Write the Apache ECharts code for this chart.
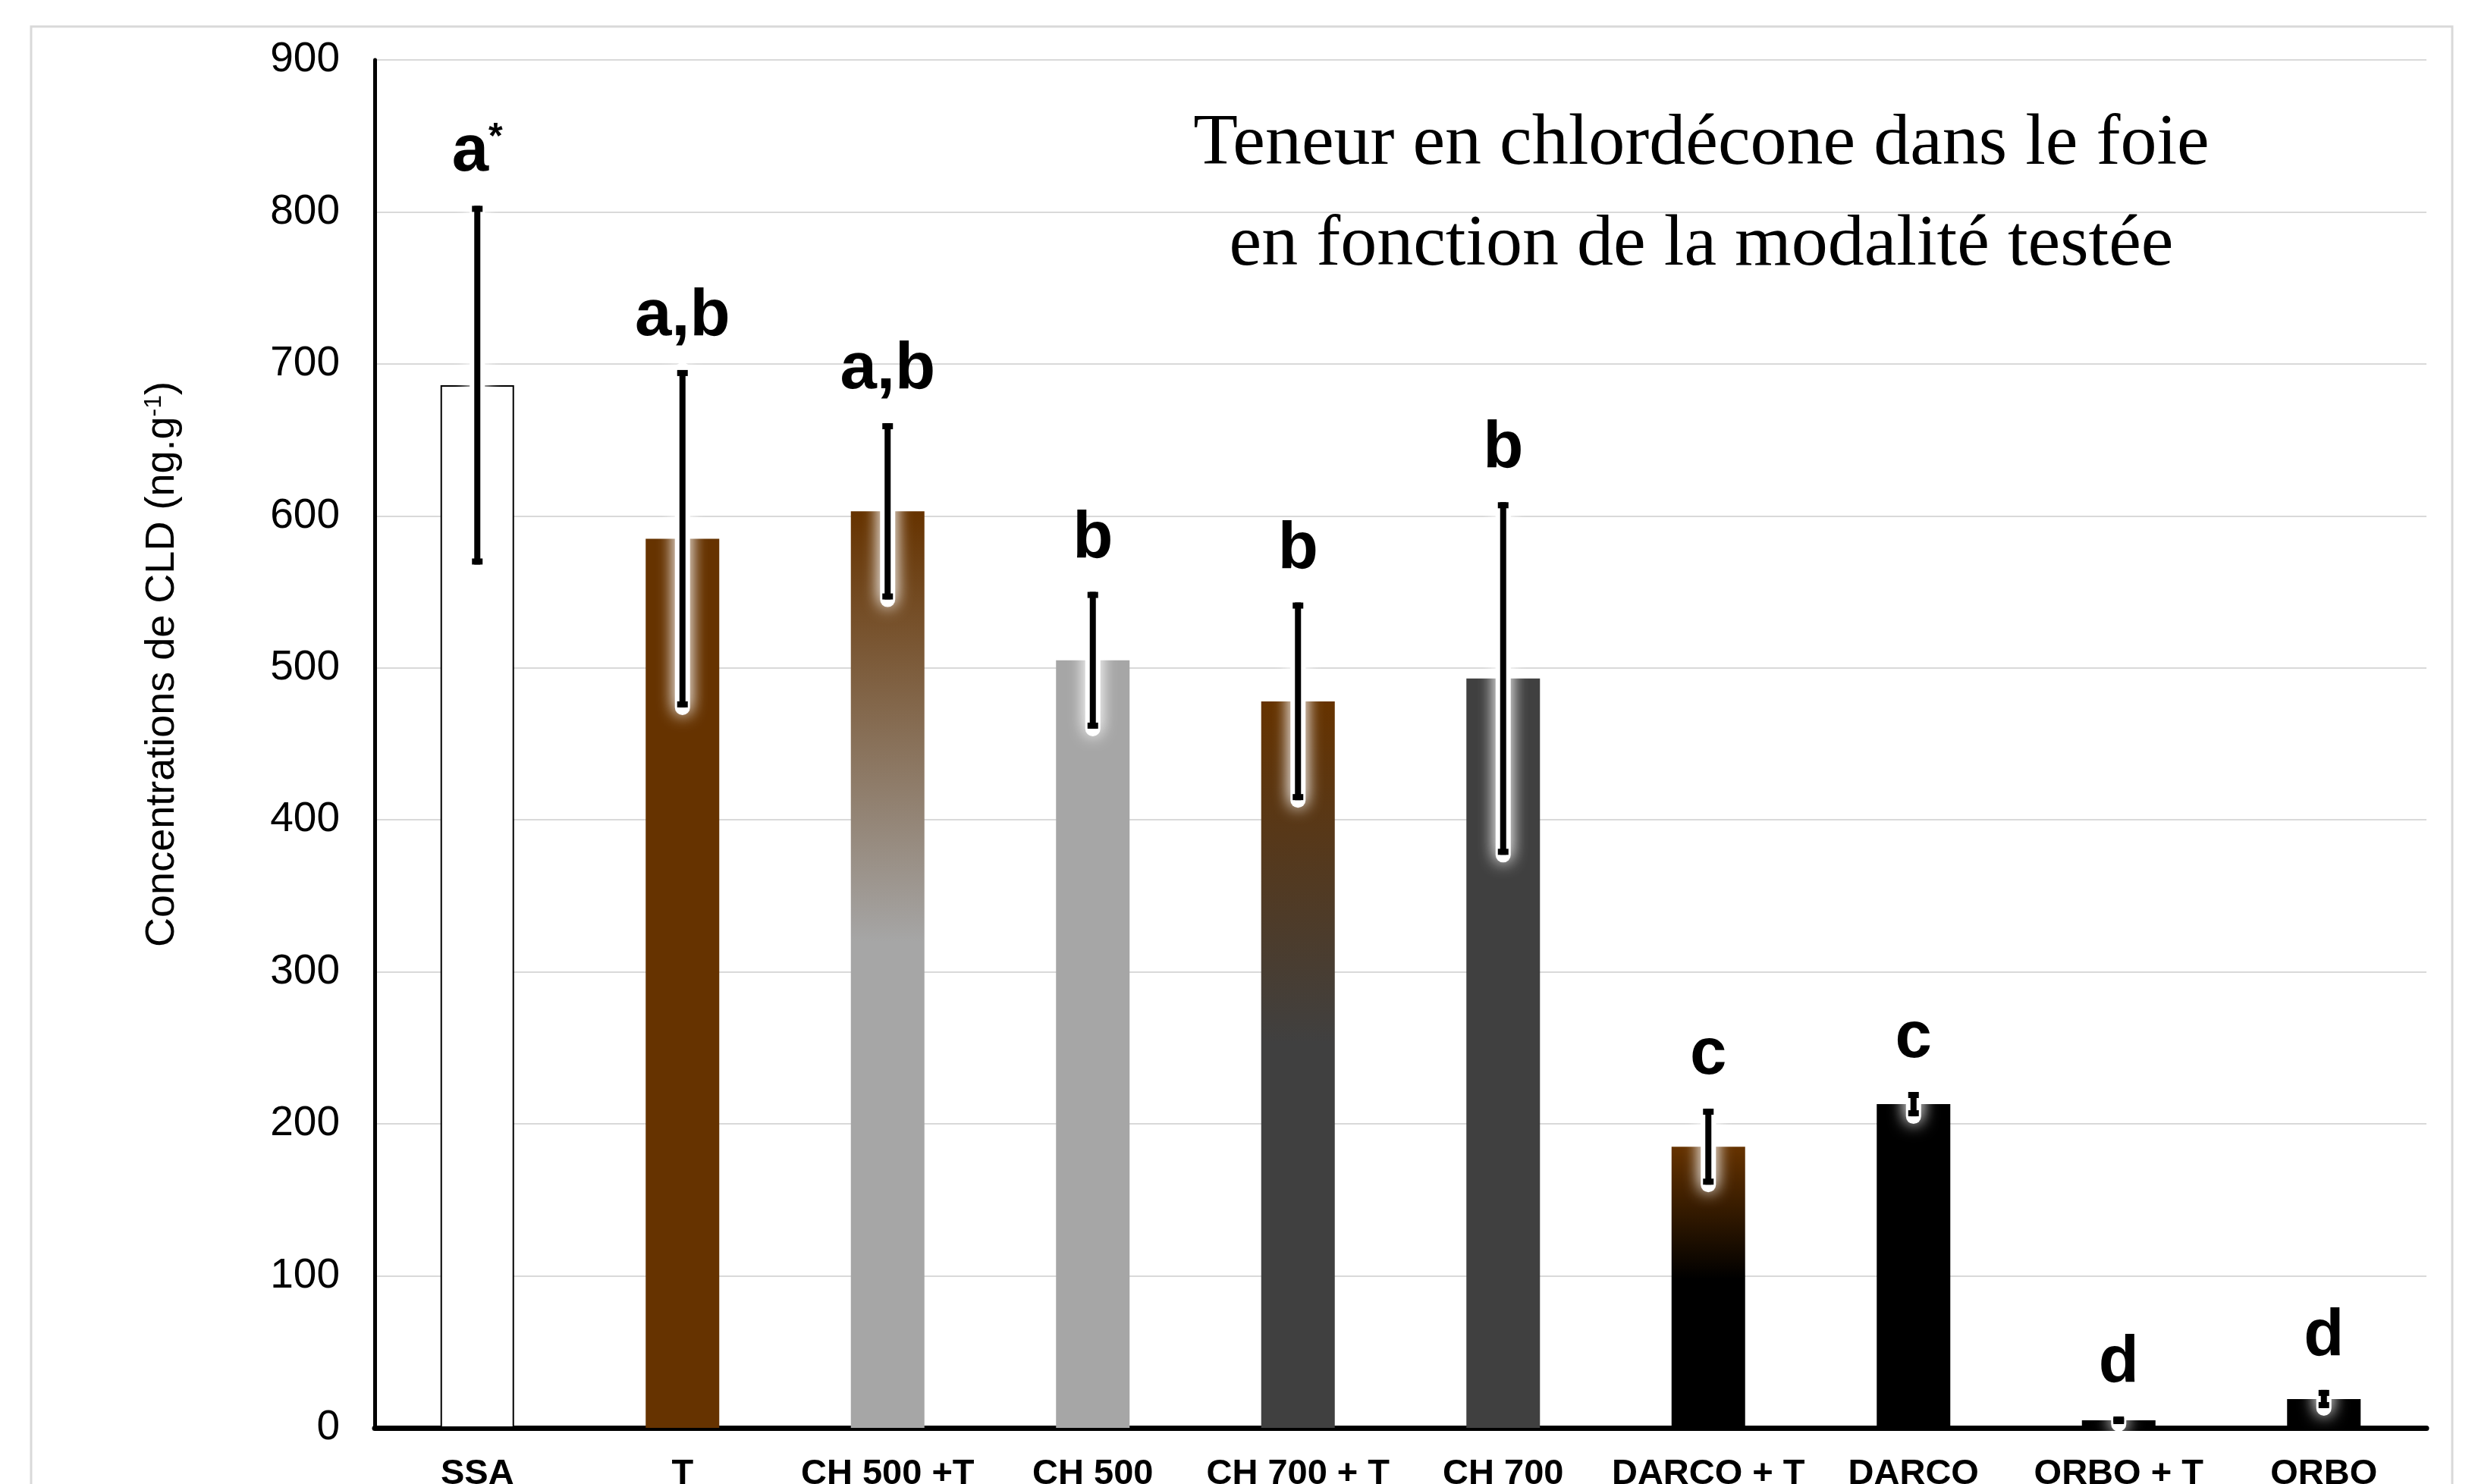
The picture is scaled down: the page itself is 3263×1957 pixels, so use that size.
<!DOCTYPE html>
<html>
<head>
<meta charset="utf-8">
<script src="https://cdn.jsdelivr.net/npm/echarts@6/dist/echarts.min.js"></script>
<style>
  html, body { margin: 0; padding: 0; background: #fff; }
  #chart { width: 3263px; height: 1957px; }
</style>
</head>
<body>
<div id="chart"></div>
<script>
// modalités testées
var categories = ['SSA', 'T', 'CH 500 +T', 'CH 500', 'CH 700 + T', 'CH 700', 'DARCO + T', 'DARCO', 'ORBO + T', 'ORBO'];
// concentrations moyennes de CLD (ng.g-1)
var means = [686, 585, 603, 505, 478, 493, 185, 213, 5, 19];
// écart-types (barres d'erreur)
var errors = [118, 111, 58, 45, 65, 116, 25, 8, 2.5, 6];
// groupes statistiques
var letters = ['a*', 'a,b', 'a,b', 'b', 'b', 'b', 'c', 'c', 'd', 'd'];

var SANS = '"Liberation Sans", Arial, sans-serif';
var SERIF = '"Liberation Serif", "Times New Roman", serif';

function fade(to) {
  return new echarts.graphic.LinearGradient(0, 0, 0, 1, [
    { offset: 0, color: '#663300' },
    { offset: 0.47, color: to },
    { offset: 1, color: to }
  ]);
}

var fills = ['#ffffff', '#663300', fade('#a6a6a6'), '#a6a6a6', fade('#404040'), '#404040', fade('#000000'), '#000000', '#000000', '#000000'];

var chart = echarts.init(document.getElementById('chart'));

chart.setOption({
  animation: false,
  backgroundColor: '#fff',
  grid: { left: 494, right: 64, top: 79, bottom: 74, outerBoundsMode: 'none', containLabel: false },
  xAxis: {
    type: 'category',
    data: categories,
    axisLine: { lineStyle: { color: '#000', width: 7 } },
    axisTick: { show: false },
    axisLabel: {
      color: '#000',
      fontFamily: SANS,
      fontWeight: 'bold',
      fontSize: 47,
      margin: 38,
      interval: 0
    }
  },
  yAxis: {
    type: 'value',
    min: 0,
    max: 900,
    interval: 100,
    axisLine: { show: true, lineStyle: { color: '#000', width: 5 } },
    axisTick: { show: false },
    axisLabel: { color: '#000', fontFamily: SANS, fontSize: 55, margin: 46 },
    splitLine: { lineStyle: { color: '#d9d9d9', width: 2 } }
  },
  graphic: [
    {
      type: 'rect',
      z: -10,
      shape: { x: 41, y: 35, width: 3192, height: 2000 },
      style: { fill: 'none', stroke: '#d9d9d9', lineWidth: 3 }
    },
    {
      type: 'text',
      x: 2243,
      y: 191,
      style: { text: 'Teneur en chlordécone dans le foie', font: '96px ' + SERIF, fill: '#000', align: 'center', verticalAlign: 'middle' }
    },
    {
      type: 'text',
      x: 2243,
      y: 324,
      style: { text: 'en fonction de la modalité testée', font: '96px ' + SERIF, fill: '#000', align: 'center', verticalAlign: 'middle' }
    },
    {
      type: 'text',
      x: 214,
      y: 876,
      rotation: Math.PI / 2,
      style: {
        text: '{t|Concentrations de CLD (ng.g}{s|-1}{t|)}',
        align: 'center',
        verticalAlign: 'middle',
        fill: '#000',
        rich: {
          t: { fontFamily: SANS, fontSize: 54, color: '#000' },
          s: { fontFamily: SANS, fontSize: 32, color: '#000', verticalAlign: 'top' }
        }
      }
    }
  ],
  series: [
    {
      type: 'bar',
      barWidth: 97,
      data: means.map(function (v, i) {
        return {
          value: v,
          itemStyle: i === 0
            ? { color: fills[i], borderColor: '#000', borderWidth: 2 }
            : { color: fills[i] }
        };
      })
    },
    {
      type: 'custom',
      z: 10,
      data: means.map(function (v, i) { return [i, v, errors[i]]; }),
      renderItem: function (params, api) {
        var i = api.value(0);
        var hi = api.coord([i, api.value(1) + api.value(2)]);
        var lo = api.coord([i, api.value(1) - api.value(2)]);
        var x = hi[0];
        var capW = 14, capH = 8;
        var glow = { shadowBlur: 22, shadowColor: '#fff' };
        var letter = letters[params.dataIndex];
        var star = letter.indexOf('*') >= 0;
        var txt = star ? '{m|' + letter.replace('*', '') + '}{s|*}' : '{m|' + letter + '}';
        return {
          type: 'group',
          children: [
            {
              type: 'line',
              shape: { x1: x, y1: hi[1], x2: x, y2: lo[1] },
              style: Object.assign({ stroke: '#fff', lineWidth: 20, lineCap: 'round' }, glow)
            },
            {
              type: 'line',
              shape: { x1: x, y1: hi[1], x2: x, y2: lo[1] },
              style: Object.assign({ stroke: '#000', lineWidth: 8 }, glow)
            },
            {
              type: 'rect',
              shape: { x: x - capW / 2, y: hi[1], width: capW, height: capH },
              style: { fill: '#000' }
            },
            {
              type: 'rect',
              shape: { x: x - capW / 2, y: lo[1] - capH, width: capW, height: capH },
              style: { fill: '#000' }
            },
            {
              type: 'text',
              x: x,
              y: hi[1] - 70,
              style: {
                text: txt,
                align: 'center',
                verticalAlign: 'middle',
                rich: {
                  m: { fontFamily: SANS, fontWeight: 'bold', fontSize: 87, color: '#000' },
                  s: { fontFamily: SANS, fontWeight: 'bold', fontSize: 48, color: '#000', verticalAlign: 'top' }
                }
              }
            }
          ]
        };
      }
    }
  ]
});
</script>
</body>
</html>
